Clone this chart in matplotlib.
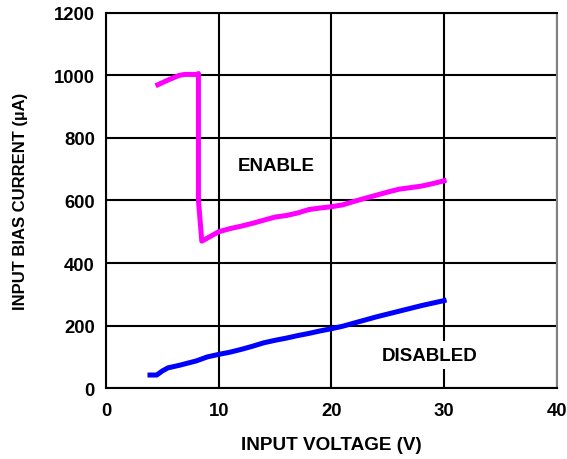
import matplotlib
matplotlib.use('Agg')
import matplotlib.pyplot as plt

plt.rcParams['font.family'] = ['Liberation Sans', 'DejaVu Sans']
plt.rcParams['font.weight'] = 'bold'

# ENABLE curve (magenta)
enable_v = [4.6, 5.5, 6.5, 7.0, 8.1, 8.2, 8.2, 8.5, 9.0, 10, 11, 12, 13, 14, 15, 16, 17, 18,
            19, 20, 21, 22, 23, 24, 25, 26, 27, 28, 29, 30]
enable_i = [970, 985, 1000, 1003, 1003, 1006, 600, 470, 480, 500, 510, 518, 527, 537, 547, 552,
            560, 571, 576, 580, 586, 597, 607, 617, 627, 636, 641, 646, 654, 663]

# DISABLED curve (blue)
disabled_v = [3.9, 4.5, 5.0, 5.5, 6.5, 8, 9, 10, 11, 12, 13, 14, 15, 16, 17, 18, 19, 20,
              21, 22, 23, 24, 25, 26, 27, 28, 29, 30]
disabled_i = [42, 42, 55, 65, 73, 87, 100, 108, 115, 124, 134, 145, 153, 160, 168, 175, 183,
              190, 198, 208, 218, 228, 237, 246, 255, 264, 272, 280]

xticks = [0, 10, 20, 30, 40]
yticks = [0, 200, 400, 600, 800, 1000, 1200]

fig = plt.figure(figsize=(5.67, 4.60), dpi=100)
ax = fig.add_axes([0.187, 0.154, 0.795, 0.816])

ax.plot(enable_v, enable_i, color='#ff00ff', lw=3.6, solid_joinstyle='round', zorder=3)
ax.plot(disabled_v, disabled_i, color='#0000ff', lw=3.6, solid_joinstyle='round', zorder=3)

ax.set_xlim(0, 40)
ax.set_ylim(0, 1200)
ax.set_xticks(xticks)
ax.set_yticks(yticks)
ax.tick_params(length=0, labelsize=13.3)
ax.tick_params(axis='y', pad=8)
ax.tick_params(axis='x', pad=10)
ax.grid(True, color='black', lw=1.5)

for s in ['left', 'bottom', 'top']:
    ax.spines[s].set_color('black')
    ax.spines[s].set_linewidth(1.5)
ax.spines['right'].set_color('#808080')
ax.spines['right'].set_linewidth(1.5)

ax.text(15.1, 712, 'ENABLE', fontsize=13.5, ha='center', va='center', zorder=4)
ax.text(28.7, 105, 'DISABLED', fontsize=13.5, ha='center', va='center', zorder=4,
        bbox=dict(facecolor='white', edgecolor='none', pad=4))

ax.set_xlabel('INPUT VOLTAGE (V)', fontsize=13.6, fontweight='bold', labelpad=12)
ax.set_ylabel('INPUT BIAS CURRENT (µA)', fontsize=12, fontweight='bold', labelpad=19)

fig.savefig('out.png', dpi=100)
